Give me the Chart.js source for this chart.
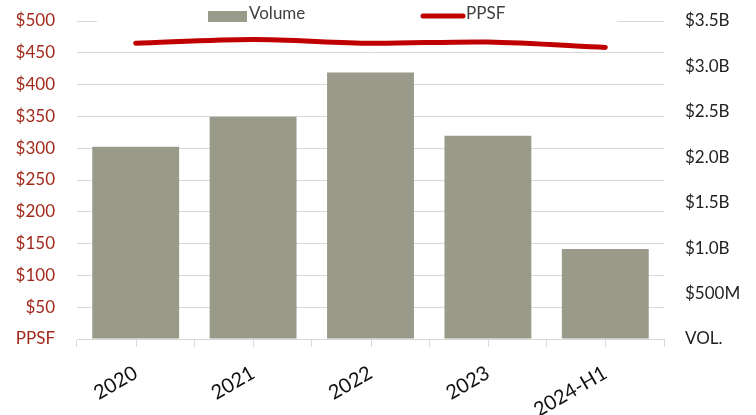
<!DOCTYPE html>
<html lang="en">
<head>
    <meta charset="UTF-8">
    <title>Volume and PPSF</title>
    <style>
        html, body { margin: 0; padding: 0; background: #fff; }
        #wrap { width: 756px; height: 415px; }
    </style>
</head>
<body>
    <div id="wrap">
        <canvas id="myChart" width="756" height="415"></canvas>
    </div>

    <script src="https://cdn.jsdelivr.net/npm/chart.js@4.4.0/dist/chart.umd.min.js"></script>
    <script>
        // data
        var years = ['2020', '2021', '2022', '2023', '2024-H1'];
        var volume = [2.115, 2.446, 2.934, 2.236, 0.99];   // $B, right axis
        var ppsf = [465, 471, 465, 467, 458.5];           // $ per sq ft, left axis

        var barColor = '#9a9a8b';
        var lineColor = '#c00000';
        var redText = '#a12a1c';
        var gridColor = '#d9d9d9';
        var fontName = 'Lato, "Open Sans", sans-serif';

        // legend sits on top of the first gridline, like the original
        var legendPlugin = {
            id: 'topLegend',
            afterDraw: function (chart) {
                var ctx = chart.ctx;
                var top = chart.chartArea.top;
                ctx.save();
                ctx.fillStyle = '#fff';
                ctx.fillRect(97, top - 2, 520, 4);

                ctx.fillStyle = barColor;
                ctx.fillRect(208, 11, 39, 11);

                ctx.strokeStyle = lineColor;
                ctx.lineWidth = 5;
                ctx.lineCap = 'round';
                ctx.beginPath();
                ctx.moveTo(423, 16);
                ctx.lineTo(463, 16);
                ctx.stroke();

                ctx.fillStyle = '#404040';
                ctx.font = '17px ' + fontName;
                ctx.textBaseline = 'middle';
                ctx.fillText('Volume', 249, 14);
                ctx.fillText('PPSF', 466, 14);
                ctx.restore();
            }
        };

        // extra tick marks halfway between category boundaries
        var halfTicks = {
            id: 'halfTicks',
            afterDraw: function (chart) {
                var ctx = chart.ctx;
                var xs = chart.scales.x;
                var bottom = chart.chartArea.bottom;
                ctx.save();
                ctx.strokeStyle = gridColor;
                ctx.lineWidth = 1;
                for (var i = 0; i < years.length; i++) {
                    var px = Math.round(xs.getPixelForValue(i)) + 0.5;
                    ctx.beginPath();
                    ctx.moveTo(px, bottom);
                    ctx.lineTo(px, bottom + 8);
                    ctx.stroke();
                }
                ctx.restore();
            }
        };

        function createChart() {
            var ctx = document.getElementById('myChart').getContext('2d');
            new Chart(ctx, {
                data: {
                    labels: years,
                    datasets: [
                        {
                            type: 'line',
                            label: 'PPSF',
                            data: ppsf,
                            yAxisID: 'y',
                            borderColor: lineColor,
                            borderWidth: 5,
                            borderCapStyle: 'round',
                            tension: 0.3,
                            pointRadius: 0,
                            order: 0
                        },
                        {
                            type: 'bar',
                            label: 'Volume',
                            data: volume,
                            yAxisID: 'y2',
                            backgroundColor: barColor,
                            barPercentage: 0.74,
                            categoryPercentage: 1,
                            order: 1
                        }
                    ]
                },
                options: {
                    responsive: false,
                    animation: false,
                    layout: { padding: { top: 21, left: 0, right: 0, bottom: 0 } },
                    plugins: {
                        legend: { display: false },
                        tooltip: { enabled: false }
                    },
                    scales: {
                        x: {
                            offset: true,
                            grid: {
                                offset: true,
                                drawOnChartArea: false,
                                tickLength: 8,
                                color: gridColor
                            },
                            border: { color: gridColor },
                            ticks: {
                                minRotation: 30,
                                maxRotation: 30,
                                padding: 14,
                                color: '#111',
                                font: { family: fontName, size: 20 }
                            },
                            afterFit: function (scale) { scale.height = 76; }
                        },
                        y: {
                            position: 'left',
                            min: 0,
                            max: 500,
                            ticks: {
                                stepSize: 50,
                                padding: 0,
                                color: redText,
                                font: { family: fontName, size: 17 },
                                callback: function (v) { return v === 0 ? 'PPSF' : '$' + v; }
                            },
                            // invisible tick marks keep the labels away from the plot
                            grid: { color: gridColor, tickLength: 22, tickColor: 'rgba(0,0,0,0)' },
                            border: { display: false },
                            afterFit: function (scale) { scale.width = 77; }
                        },
                        y2: {
                            position: 'right',
                            min: 0,
                            max: 3.5,
                            ticks: {
                                stepSize: 0.5,
                                padding: 0,
                                color: '#222',
                                font: { family: fontName, size: 17 },
                                callback: function (v) {
                                    if (v === 0) return 'VOL.';
                                    if (v === 0.5) return '$500M';
                                    return '$' + v.toFixed(1) + 'B';
                                }
                            },
                            grid: { drawOnChartArea: false, tickLength: 21, tickColor: 'rgba(0,0,0,0)' },
                            border: { display: false },
                            afterFit: function (scale) { scale.width = 92; }
                        }
                    }
                },
                plugins: [halfTicks, legendPlugin]
            });
        }
        createChart();
    </script>
</body>
</html>
